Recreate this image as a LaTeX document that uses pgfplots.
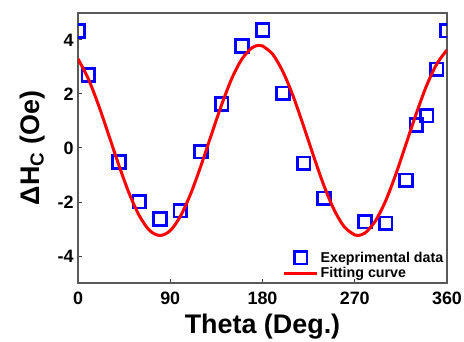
\documentclass[border=0pt]{standalone}
\usepackage{fontspec}
\setmainfont{Liberation Sans}
\usepackage{pgfplots}
\pgfplotsset{compat=1.18}
\pgfplotsset{
  legmark/.style={legend image code/.code={\draw[mark repeat=2,mark phase=2,##1] plot coordinates {(0cm,0cm) (0.58cm,0cm) (1.16cm,0cm)};}},
  legline/.style={legend image code/.code={\draw[##1] (0cm,0cm) -- (1.16cm,0cm);}},
}
\begin{document}
\begin{tikzpicture}
\begin{axis}[
  scale only axis,
  width=369bp, height=270bp,
  xmin=0, xmax=360, ymin=-5, ymax=5,
  xtick={0,90,180,270,360},
  ytick={-4,-2,0,2,4},
  tick align=inside,
  xtick pos=bottom, ytick pos=left,
  major tick length=4bp,
  axis line style={draw=black!65, line width=1.2bp},
  tick style={draw=black!75, line width=1bp},
  clip mode=individual,
  clip marker paths=true,
  /pgf/number format/assume math mode=true,
  ticklabel style={font=\bfseries\fontsize{18}{18}\selectfont},
  xticklabel style={yshift=-5bp},
  yticklabel style={xshift=-1bp},
  xlabel={\bfseries\fontsize{27}{27}\selectfont Theta (Deg.)},
  ylabel={\bfseries\fontsize{27}{27}\selectfont ΔH\textsubscript{C} (Oe)},
  xlabel style={yshift=-3bp},
  ylabel style={yshift=6bp},
  legend style={draw=none, fill=none, at={(rel axis cs:1,0)}, anchor=south east,
    font=\bfseries\fontsize{14.3}{14.3}\selectfont, row sep=0bp, inner sep=1.5bp},
  legend cell align=left,
]
\addplot[only marks, mark=square, mark size=6.3bp, blue, mark options={line width=2.6bp}, legmark]
coordinates {
(0,4.33) (10,2.70) (40,-0.52) (60,-1.99) (80,-2.63) (100,-2.32)
(120,-0.14) (140,1.63) (160,3.78) (180,4.37) (200,2.02) (220,-0.57)
(240,-1.86) (280,-2.73) (300,-2.79) (320,-1.19) (330,0.85) (340,1.19)
(350,2.91) (360,4.34)
};
\addlegendentry{Exeprimental data}
\addplot[red, line width=3bp, smooth, no marks, legline]
coordinates {
(0,3.30) (10,2.57) (20,1.59) (30,0.48) (40,-0.65) (50,-1.69) (60,-2.52)
(70,-3.06) (80,-3.24) (90,-3.06) (100,-2.52) (110,-1.69) (120,-0.65)
(130,0.48) (140,1.59) (150,2.57) (160,3.30) (170,3.72) (176.5,3.80)
(180,3.78) (190,3.47) (200,2.82) (210,1.91) (220,0.82) (230,-0.32)
(240,-1.40) (250,-2.30) (260,-2.93) (270,-3.22) (273,-3.24) (280,-3.15)
(290,-2.71) (300,-1.97) (310,-0.98) (320,0.14) (330,1.27) (340,2.30)
(350,3.11) (360,3.63)
};
\addlegendentry{Fitting curve}
\end{axis}
\pgfresetboundingbox
\path (-78bp,-59bp) rectangle (386bp,283bp);
\end{tikzpicture}
\end{document}
